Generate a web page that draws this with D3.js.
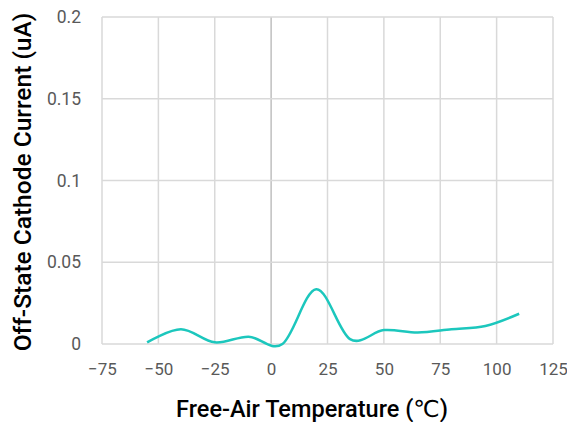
<!DOCTYPE html>
<html>
<head>
<meta charset="utf-8">
<script src="https://cdn.jsdelivr.net/npm/d3@7"></script>
<style>
  body { margin: 0; background: #fff; }
</style>
</head>
<body>
<div id="chart"></div>
<script>
// temperature (°C) and off-state cathode current (uA)
const temps = [-55, -40, -25, -10, 5, 20, 35, 50, 65, 80, 95, 110];
const current = [0.001, 0.009, 0.001, 0.0045, 0.0, 0.0335, 0.003, 0.0085, 0.007, 0.009, 0.011, 0.0185];
const xTicks = [-75, -50, -25, 0, 25, 50, 75, 100, 125];
const yTicks = [0, 0.05, 0.1, 0.15, 0.2];

const W = 567, H = 422;
const margin = { top: 17, right: 14, bottom: 78, left: 102 };
const width = W - margin.left - margin.right,
      height = H - margin.top - margin.bottom;

const svg = d3.select("#chart")
  .append("svg")
  .attr("width", W)
  .attr("height", H)
  .append("g")
  .attr("transform", `translate(${margin.left},${margin.top})`);

const x = d3.scaleLinear().domain([-75, 125]).range([0, width]);
const y = d3.scaleLinear().domain([0, 0.2]).range([height, 0]);

// gridlines
svg.selectAll(".vgrid")
  .data(xTicks)
  .enter()
  .append("line")
  .attr("x1", d => x(d)).attr("x2", d => x(d))
  .attr("y1", 0).attr("y2", height)
  .attr("stroke", d => d === 0 ? "#bfbfbf" : "#d9d9d9")
  .attr("stroke-width", 1.5);

svg.selectAll(".hgrid")
  .data(yTicks)
  .enter()
  .append("line")
  .attr("x1", 0).attr("x2", width)
  .attr("y1", d => y(d)).attr("y2", d => y(d))
  .attr("stroke", "#d9d9d9")
  .attr("stroke-width", 1.5);

// axes (labels only)
const font = "Roboto, 'DejaVu Sans', sans-serif";

const xAxis = svg.append("g")
  .attr("transform", `translate(0,${height})`)
  .call(d3.axisBottom(x).tickValues(xTicks).tickSize(0).tickPadding(19).tickFormat(d3.format("d")));
xAxis.select(".domain").remove();
xAxis.selectAll("text")
  .style("font-family", font)
  .style("font-size", "17px")
  .attr("fill", "#595959");

const yAxis = svg.append("g")
  .call(d3.axisLeft(y).tickValues(yTicks).tickSize(0).tickPadding(21).tickFormat(d => d === 0 ? "0" : String(d)));
yAxis.select(".domain").remove();
yAxis.selectAll("text")
  .style("font-family", font)
  .style("font-size", "17.5px")
  .attr("fill", "#595959");

// line
const line = d3.line()
  .x((d, i) => x(temps[i]))
  .y(d => y(d))
  .curve(d3.curveCardinal);

svg.append("path")
  .datum(current)
  .attr("fill", "none")
  .attr("stroke", "#1cc7bd")
  .attr("stroke-width", 2.5)
  .attr("d", line);

// axis titles
svg.append("text")
  .attr("x", 210)
  .attr("y", height + 73)
  .attr("text-anchor", "middle")
  .style("font-family", font)
  .style("font-size", "23.5px")
  .style("font-weight", "500")
  .attr("fill", "#000")
  .text("Free-Air Temperature (℃)");

svg.append("text")
  .attr("transform", `translate(${-71},${165}) rotate(-90)`)
  .attr("text-anchor", "middle")
  .style("font-family", font)
  .style("font-size", "24.5px")
  .style("font-weight", "500")
  .attr("fill", "#000")
  .text("Off-State Cathode Current (uA)");
</script>
</body>
</html>
